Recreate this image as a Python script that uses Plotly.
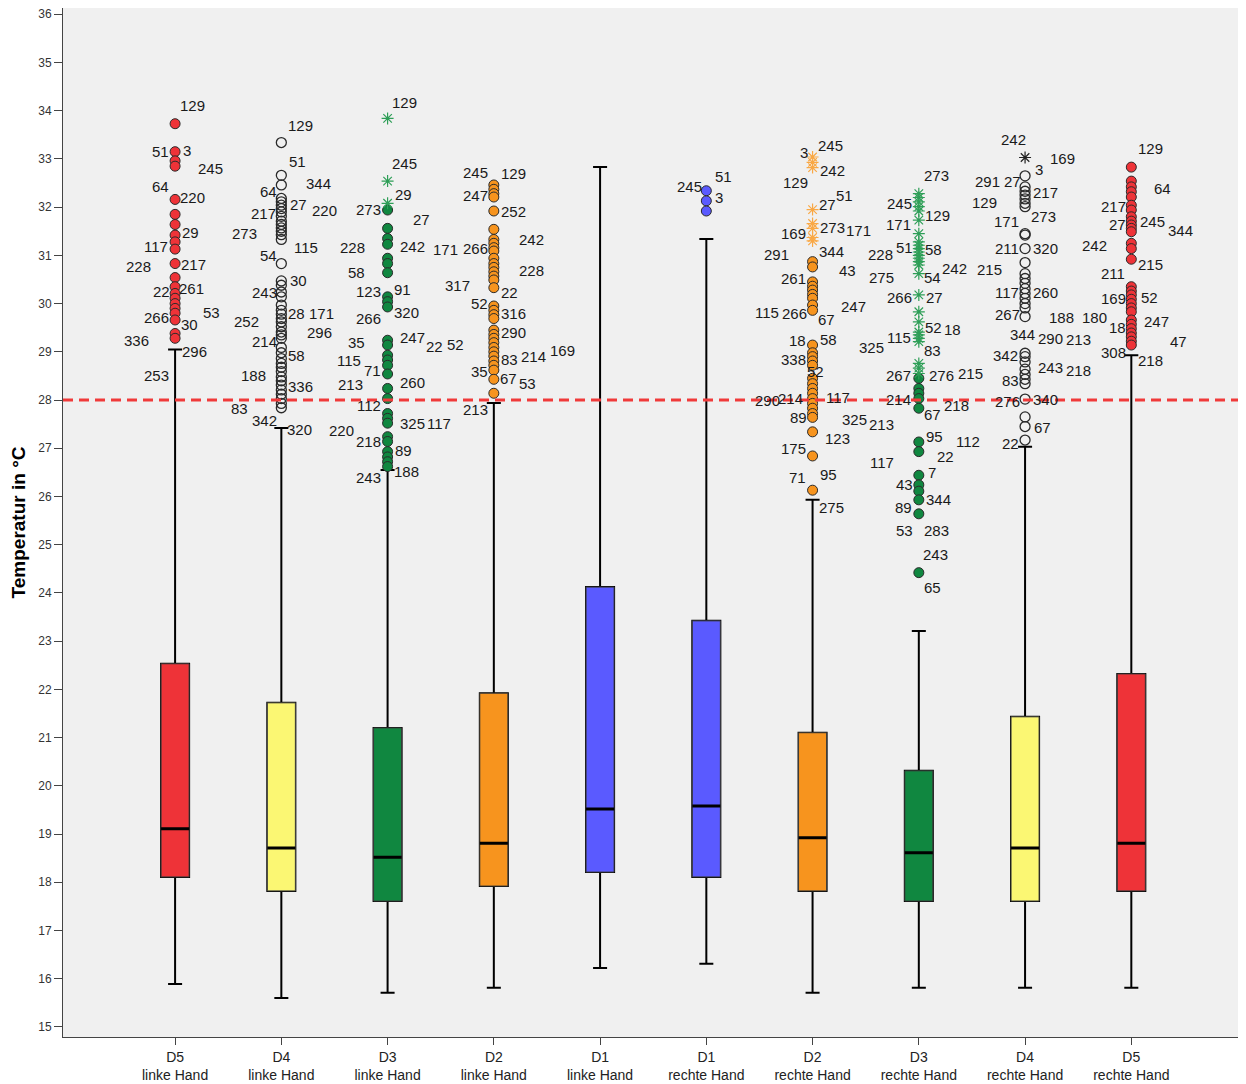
import plotly.graph_objects as go

# ---------------- data ----------------
GROUPS = ["D5", "D4", "D3", "D2", "D1", "D1", "D2", "D3", "D4", "D5"]
HANDS = ["linke Hand"] * 5 + ["rechte Hand"] * 5
COLORS = ["#EE3338", "#FBF773", "#108740", "#F7941E", "#5A5AFF",
          "#5A5AFF", "#F7941E", "#108740", "#FBF773", "#EE3338"]
STAR_COLORS = [None, None, "#2E9E57", None, None, None, "#F9A845", "#2E9E57", "#222222", None]
OPEN_MARKERS = [False, True, False, False, False, False, False, False, True, False]

Q1 = [18.11, 17.82, 17.61, 17.92, 18.21, 18.11, 17.82, 17.61, 17.61, 17.82]
MED = [19.11, 18.71, 18.52, 18.81, 19.52, 19.58, 18.92, 18.61, 18.71, 18.81]
Q3 = [22.53, 21.72, 21.20, 21.92, 24.12, 23.42, 21.10, 20.31, 21.43, 22.32]
LOW = [15.89, 15.60, 15.71, 15.81, 16.22, 16.31, 15.71, 15.81, 15.81, 15.81]
UP = [29.05, 27.42, 26.55, 27.94, 32.83, 31.34, 25.93, 23.21, 27.03, 28.93]

THRESHOLD = 28

OUT_D5L = [33.73, 33.15, 32.96, 32.85, 32.16, 31.85, 31.64, 31.42, 31.28, 31.13, 30.83,
           30.54, 30.35, 30.21, 30.11, 30.00, 29.90, 29.80, 29.66, 29.38, 29.28]
OUT_D4L = [33.34, 32.66, 32.46, 32.18, 32.11, 32.04, 31.97, 31.90, 31.81, 31.71, 31.64,
           31.57, 31.50, 31.43, 31.33, 30.83, 30.47, 30.38, 30.24, 30.14, 29.97, 29.86,
           29.78, 29.69, 29.62, 29.52, 29.41, 29.35, 29.28, 29.09, 28.98, 28.86, 28.76,
           28.68, 28.59, 28.48, 28.40, 28.31, 28.21, 28.12, 28.03, 27.93, 27.84]
EXT_D3L = [33.84, 32.54, 32.08]
OUT_D3L = [31.94, 31.56, 31.35, 31.23, 30.94, 30.83, 30.64, 30.14, 30.04, 29.93, 29.24,
           29.14, 28.93, 28.83, 28.72, 28.54, 28.24, 28.03, 27.72, 27.62, 27.52, 27.24,
           27.14, 26.93, 26.82, 26.72, 26.62]
OUT_D2L = [32.46, 32.37, 32.28, 32.21, 31.92, 31.54, 31.33, 31.25, 31.16, 31.09, 30.94,
           30.83, 30.75, 30.66, 30.57, 30.49, 30.33, 29.95, 29.86, 29.77, 29.69, 29.45,
           29.36, 29.28, 29.19, 29.09, 29.00, 28.91, 28.81, 28.72, 28.62, 28.43, 28.14]
OUT_D1L = []
OUT_D1R = [32.34, 32.13, 31.92]
EXT_D2R = [33.04, 32.93, 32.82, 31.95, 31.66, 31.56, 31.37, 31.30]
OUT_D2R = [30.87, 30.76, 30.45, 30.36, 30.28, 30.19, 30.11, 29.97, 29.86, 29.14, 28.98,
           28.90, 28.81, 28.72, 28.45, 28.34, 28.24, 28.14, 28.03, 27.93, 27.83, 27.72,
           27.64, 27.34, 26.84, 26.13]
EXT_D3R = [32.28, 32.20, 32.11, 32.01, 31.92, 31.73, 31.45, 31.28, 31.21, 31.14, 31.07,
           31.00, 30.94, 30.87, 30.80, 30.62, 30.18, 29.83, 29.62, 29.41, 29.35, 29.28,
           29.21, 28.76, 28.66, 28.55]
OUT_D3R = [28.45, 28.24, 28.14, 28.03, 27.83, 27.13, 26.93, 26.44, 26.24, 26.11, 25.93,
           25.64, 24.42]
EXT_D4R = [33.03]
OUT_D4R = [32.65, 32.42, 32.33, 32.25, 32.17, 32.08, 32.01, 31.45, 31.42, 31.14, 30.85,
           30.62, 30.52, 30.42, 30.31, 30.21, 30.11, 30.00, 29.91, 29.73, 28.97, 28.90,
           28.79, 28.64, 28.53, 28.43, 28.34, 28.02, 27.65, 27.45, 27.17]
OUT_D5R = [32.83, 32.54, 32.42, 32.32, 32.21, 32.04, 31.94, 31.80, 31.71, 31.63, 31.56,
           31.49, 31.25, 31.14, 30.92, 30.35, 30.26, 30.18, 30.09, 30.00, 29.91, 29.83,
           29.66, 29.57, 29.48, 29.39, 29.31, 29.22, 29.14]

OUTLIERS = [OUT_D5L, OUT_D4L, OUT_D3L, OUT_D2L, OUT_D1L, OUT_D1R, OUT_D2R, OUT_D3R, OUT_D4R, OUT_D5R]
EXTREMES = [[], [], EXT_D3L, [], [], [], EXT_D2R, EXT_D3R, EXT_D4R, []]

# case-number labels: (text, value in °C, horizontal offset in px)
LAB_D5L = [("129", 34.11, 17), ("51", 33.16, -15), ("3", 33.18, 12), ("245", 32.81, 35),
           ("64", 32.43, -15), ("220", 32.21, 17), ("29", 31.48, 15), ("117", 31.19, -19),
           ("228", 30.76, -37), ("217", 30.82, 18), ("22", 30.26, -14), ("261", 30.32, 16),
           ("53", 29.82, 36), ("266", 29.72, -19), ("30", 29.57, 14), ("336", 29.24, -39),
           ("296", 29.01, 19), ("253", 28.50, -19)]
LAB_D4L = [("129", 33.70, 19), ("51", 32.95, 16), ("344", 32.50, 37), ("64", 32.33, -13),
           ("27", 32.06, 17), ("217", 31.87, -18), ("220", 31.94, 43), ("273", 31.46, -37),
           ("115", 31.17, 25), ("54", 31.00, -13), ("30", 30.47, 17), ("243", 30.24, -17),
           ("28", 29.80, 15), ("171", 29.80, 40), ("252", 29.62, -35), ("296", 29.41, 38),
           ("214", 29.22, -17), ("58", 28.93, 15), ("188", 28.50, -28), ("336", 28.29, 19),
           ("83", 27.83, -42), ("342", 27.58, -17), ("320", 27.38, 18)]
LAB_D3L = [("129", 34.16, 17), ("245", 32.91, 17), ("29", 32.27, 16), ("273", 31.96, -19),
           ("27", 31.75, 34), ("228", 31.17, -35), ("242", 31.19, 25), ("58", 30.65, -31),
           ("123", 30.26, -19), ("91", 30.30, 15), ("266", 29.70, -19), ("320", 29.82, 19),
           ("35", 29.20, -31), ("247", 29.30, 25), ("22", 29.12, 47), ("115", 28.81, -39),
           ("71", 28.62, -15), ("213", 28.33, -37), ("260", 28.37, 25), ("112", 27.89, -19),
           ("325", 27.52, 25), ("117", 27.52, 51), ("220", 27.36, -46), ("218", 27.13, -19),
           ("89", 26.96, 16), ("243", 26.40, -19), ("188", 26.51, 19)]
LAB_D2L = [("245", 32.72, -18), ("129", 32.70, 20), ("247", 32.25, -18), ("252", 31.90, 20),
           ("242", 31.32, 38), ("171", 31.13, -48), ("266", 31.15, -18), ("228", 30.69, 38),
           ("317", 30.38, -36), ("22", 30.24, 16), ("52", 30.01, -14), ("316", 29.80, 20),
           ("290", 29.41, 20), ("52", 29.16, -38), ("83", 28.85, 16), ("214", 28.91, 40),
           ("169", 29.03, 69), ("35", 28.60, -14), ("67", 28.45, 15), ("53", 28.35, 34),
           ("213", 27.81, -18)]
LAB_D1L = []
LAB_D1R = [("245", 32.43, -17), ("51", 32.64, 17), ("3", 32.19, 13)]
LAB_D2R = [("3", 33.14, -9), ("245", 33.28, 18), ("242", 32.75, 20), ("129", 32.52, -17),
           ("51", 32.25, 32), ("27", 32.06, 15), ("169", 31.46, -19), ("273", 31.58, 20),
           ("171", 31.52, 46), ("291", 31.02, -36), ("344", 31.09, 19), ("43", 30.69, 35),
           ("261", 30.53, -19), ("247", 29.95, 41), ("115", 29.82, -46), ("266", 29.80, -18),
           ("67", 29.66, 14), ("18", 29.24, -15), ("58", 29.26, 16), ("338", 28.85, -19),
           ("52", 28.60, 3), ("290", 28.00, -45), ("214", 28.04, -22), ("117", 28.06, 25),
           ("89", 27.63, -14), ("325", 27.60, 42), ("123", 27.21, 25), ("175", 27.00, -19),
           ("71", 26.40, -15), ("95", 26.46, 16), ("275", 25.78, 19)]
LAB_D3R = [("273", 32.66, 18), ("245", 32.08, -19), ("129", 31.83, 19), ("171", 31.63, -20),
           ("228", 31.02, -38), ("51", 31.17, -14), ("58", 31.13, 15), ("275", 30.55, -37),
           ("54", 30.55, 14), ("242", 30.73, 36), ("266", 30.13, -19), ("27", 30.13, 16),
           ("52", 29.51, 15), ("18", 29.47, 34), ("115", 29.30, -20), ("325", 29.08, -47),
           ("83", 29.03, 14), ("267", 28.50, -20), ("276", 28.50, 23), ("215", 28.56, 52),
           ("214", 28.02, -20), ("218", 27.89, 38), ("67", 27.69, 14), ("213", 27.50, -37),
           ("95", 27.25, 16), ("112", 27.13, 49), ("117", 26.71, -37), ("22", 26.82, 27),
           ("7", 26.49, 13), ("43", 26.24, -14), ("89", 25.78, -15), ("344", 25.93, 20),
           ("53", 25.30, -14), ("283", 25.30, 18), ("243", 24.79, 17), ("65", 24.12, 14)]
LAB_D4R = [("242", 33.41, -12), ("169", 33.01, 37), ("3", 32.79, 14), ("291", 32.54, -38),
           ("27", 32.54, -13), ("217", 32.31, 20), ("129", 32.10, -41), ("273", 31.81, 18),
           ("171", 31.71, -19), ("211", 31.15, -18), ("320", 31.15, 20), ("215", 30.71, -36),
           ("117", 30.24, -18), ("260", 30.24, 20), ("267", 29.78, -18), ("188", 29.72, 36),
           ("344", 29.35, -3), ("290", 29.28, 25), ("213", 29.26, 53), ("342", 28.93, -20),
           ("243", 28.68, 25), ("218", 28.62, 53), ("83", 28.41, -15), ("276", 27.96, -18),
           ("340", 28.02, 20), ("67", 27.44, 17), ("22", 27.09, -15)]
LAB_D5R = [("129", 33.22, 19), ("64", 32.39, 31), ("217", 32.02, -18), ("27", 31.63, -14),
           ("245", 31.71, 21), ("344", 31.52, 49), ("242", 31.21, -37), ("215", 30.82, 19),
           ("211", 30.63, -18), ("169", 30.11, -18), ("52", 30.13, 18), ("180", 29.72, -37),
           ("18", 29.51, -14), ("247", 29.62, 25), ("47", 29.22, 47), ("308", 28.99, -18),
           ("218", 28.81, 19)]
LABELS = [LAB_D5L, LAB_D4L, LAB_D3L, LAB_D2L, LAB_D1L, LAB_D1R, LAB_D2R, LAB_D3R, LAB_D4R, LAB_D5R]

# ---------------- figure ----------------
FONT = "Liberation Sans, Arial, sans-serif"
BOX_W = 0.264
xs = list(range(len(GROUPS)))

fig = go.Figure()

# whiskers + caps (black)
fig.add_trace(go.Box(x=xs, q1=Q1, median=MED, q3=Q3, lowerfence=LOW, upperfence=UP,
                     width=BOX_W, whiskerwidth=0.5, fillcolor="rgba(0,0,0,0)",
                     line=dict(color="black", width=2), boxpoints=False,
                     hoverinfo="skip", showlegend=False))
# coloured boxes
for i in xs:
    fig.add_trace(go.Box(x=[i], q1=[Q1[i]], median=[MED[i]], q3=[Q3[i]],
                         lowerfence=[Q1[i]], upperfence=[Q3[i]],
                         width=BOX_W, whiskerwidth=0, fillcolor=COLORS[i],
                         line=dict(color="#3a3a3a", width=1), boxpoints=False,
                         hoverinfo="skip", showlegend=False))
# medians (thick)
fig.add_trace(go.Box(x=xs, q1=MED, median=MED, q3=MED, lowerfence=MED, upperfence=MED,
                     width=BOX_W, whiskerwidth=0, fillcolor="rgba(0,0,0,0)",
                     line=dict(color="black", width=3), boxpoints=False,
                     hoverinfo="skip", showlegend=False))

# threshold line
fig.add_shape(type="line", xref="paper", x0=0, x1=1, yref="y", y0=THRESHOLD, y1=THRESHOLD,
              line=dict(color="#F03A3A", width=3, dash="10px,6px"), layer="above")

# outliers
for i in xs:
    if OUTLIERS[i]:
        if OPEN_MARKERS[i]:
            marker = dict(symbol="circle-open", size=10, color="#2a2a2a",
                          line=dict(color="#2a2a2a", width=1.3))
        else:
            marker = dict(symbol="circle", size=10, color=COLORS[i],
                          line=dict(color="#2a2a2a", width=1))
        fig.add_trace(go.Scatter(x=[i] * len(OUTLIERS[i]), y=OUTLIERS[i], mode="markers",
                                 marker=marker, hoverinfo="y", showlegend=False))
    if EXTREMES[i]:
        fig.add_trace(go.Scatter(x=[i] * len(EXTREMES[i]), y=EXTREMES[i], mode="markers",
                                 marker=dict(symbol="asterisk-open", size=10, color=STAR_COLORS[i],
                                             line=dict(color=STAR_COLORS[i], width=1.2)),
                                 hoverinfo="y", showlegend=False))

# case labels
for i in xs:
    for txt, val, dx in LABELS[i]:
        fig.add_annotation(x=i, y=val, xref="x", yref="y", text=txt, showarrow=False,
                           xshift=dx, xanchor="center", yanchor="middle",
                           font=dict(family=FONT, size=15, color="#1a1a1a"))

ticktext = [f"{g}<br>{h}" for g, h in zip(GROUPS, HANDS)]

# the page body adds an 8px margin, so the figure is sized to fill the rest of the window
fig.update_layout(
    width=1238, height=1076,
    margin=dict(l=55, r=1, t=0, b=47),
    paper_bgcolor="white", plot_bgcolor="#F0F0F0",
    boxmode="overlay", showlegend=False,
    font=dict(family=FONT, color="#222"),
    xaxis=dict(range=[-1.055, 10.07], tickvals=xs, ticktext=ticktext, automargin=False,
               ticks="outside", ticklen=7, tickcolor="#444", showgrid=False, zeroline=False,
               showline=True, linecolor="#444", linewidth=1, mirror=True,
               ticklabeloverflow="allow",
               tickfont=dict(size=14, color="#222")),
    yaxis=dict(range=[14.79, 36.13], tickvals=list(range(15, 37)), automargin=False,
               ticks="outside", ticklen=8, tickcolor="#444", showgrid=False, zeroline=False,
               showline=True, linecolor="#444", linewidth=1, mirror=True,
               ticklabeloverflow="allow",
               tickfont=dict(size=12, color="#333"),
               title=dict(text="Temperatur in °C", standoff=9,
                          font=dict(size=19, color="black", weight="bold"))),
)

fig.write_html("out.html")
